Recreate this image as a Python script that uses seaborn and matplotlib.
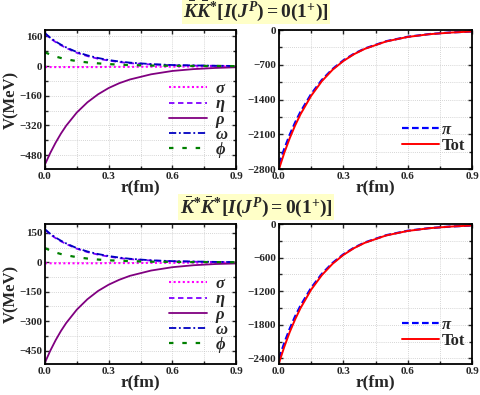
import matplotlib
matplotlib.use("Agg")
import matplotlib.pyplot as plt
import matplotlib.ticker as mticker
import seaborn as sns
import pandas as pd

# DATA

r = [0.0, 0.025, 0.05, 0.075, 0.1, 0.15, 0.2, 0.25, 0.3, 0.35, 0.4, 0.5, 0.6, 0.7, 0.8, 0.9]

# K-bar K-bar* panel
kk_sigma = [-5, -5, -5, -5, -5, -5, -5, -5, -4, -4, -4, -3, -3, -2, -2, -2]
kk_eta = [175, 150, 130, 113, 98, 72, 54, 40, 30, 22, 16, 9, 5, 3, 2, 1]
kk_rho = [-530, -468, -413, -364, -321, -250, -195, -152, -118, -92, -72, -44, -26, -16, -10, -6]
kk_omega = [178, 153, 133, 116, 101, 76, 58, 44, 33, 25, 19, 11, 6, 4, 2, 1]
kk_phi = [75, 62, 52, 44, 37, 27, 20, 15, 11, 8, 6, 3, 2, 1, 1, 0]
kk_pi = [-2700, -2390, -2110, -1865, -1650, -1290, -1005, -785, -612, -478, -373, -226, -137, -83, -50, -29]
kk_tot = [-2800, -2470, -2180, -1925, -1700, -1325, -1030, -800, -625, -487, -380, -230, -140, -85, -52, -30]

# K-bar* K-bar* panel
ss_sigma = [-5, -5, -5, -5, -5, -5, -5, -5, -4, -4, -4, -3, -3, -2, -2, -2]
ss_eta = [165, 142, 123, 107, 93, 69, 52, 39, 29, 21, 16, 9, 5, 3, 2, 1]
ss_rho = [-510, -450, -397, -350, -309, -241, -188, -146, -114, -89, -69, -42, -25, -15, -9, -6]
ss_omega = [168, 145, 126, 110, 96, 72, 55, 42, 32, 24, 18, 10, 6, 4, 2, 1]
ss_phi = [72, 60, 50, 42, 36, 26, 19, 14, 10, 8, 6, 3, 2, 1, 1, 0]
ss_pi = [-2400, -2120, -1870, -1650, -1460, -1140, -890, -695, -542, -423, -330, -200, -121, -74, -45, -27]
ss_tot = [-2480, -2190, -1930, -1705, -1505, -1172, -912, -710, -553, -431, -336, -204, -124, -75, -46, -27]

meson_names = ["σ", "η", "ρ", "ω", "ϕ"]

titles = [r"$\bar{K}\bar{K}^{*}[I(J^{P})=0(1^{+})]$",
          r"$\bar{K}^{*}\bar{K}^{*}[I(J^{P})=0(1^{+})]$"]

# STYLE

sns.set_theme(style="ticks")
plt.rcParams["font.family"] = ["Liberation Serif", "DejaVu Serif"]
plt.rcParams["font.weight"] = "bold"
plt.rcParams["mathtext.fontset"] = "custom"
plt.rcParams["mathtext.rm"] = "Liberation Serif:weight=bold"
plt.rcParams["mathtext.it"] = "Liberation Serif:style=italic:weight=bold"
plt.rcParams["mathtext.bf"] = "Liberation Serif:weight=bold"

meson_styles = [
    dict(color="#ff00ff", ls=(0, (1, 1.2)), lw=1.5),
    dict(color="#8000ff", ls=(0, (3, 2)), lw=1.3),
    dict(color="#800080", ls="-", lw=1.3),
    dict(color="#0000c0", ls=(0, (4, 1.5, 1, 1.5)), lw=1.3),
    dict(color="#008000", ls=(0, (2, 4)), lw=1.6),
]


def style_axes(ax, ymin, ymax, ystep):
    ax.set_xlim(0, 0.9)
    ax.set_ylim(ymin, ymax)
    ax.xaxis.set_major_locator(mticker.MultipleLocator(0.3))
    ax.xaxis.set_minor_locator(mticker.MultipleLocator(0.15))
    ax.yaxis.set_major_locator(mticker.MultipleLocator(ystep))
    ax.yaxis.set_minor_locator(mticker.MultipleLocator(ystep / 2))
    ax.xaxis.set_major_formatter(mticker.FormatStrFormatter("%.1f"))
    ax.tick_params(which="both", direction="in", top=True, right=True,
                   labelsize=8, width=1.0, length=3, pad=2)
    ax.tick_params(which="minor", length=2)
    for lab in ax.get_xticklabels() + ax.get_yticklabels():
        lab.set_fontweight("bold")
    ax.grid(which="both", color="#c8c8c8", ls=(0, (1, 1.5)), lw=0.6)
    for s in ax.spines.values():
        s.set_linewidth(1.3)
        s.set_color("black")
    ax.set_xlabel("r(fm)", fontsize=12.5, fontweight="bold", labelpad=-1)


def italic_labels(leg, which):
    for i in which:
        leg.get_texts()[i].set_fontstyle("italic")


def draw_left(ax, vals, ymin, ymax, ystep):
    df = pd.DataFrame({"r": r})
    for name, st, v in zip(meson_names, meson_styles, vals):
        df[name] = v
        sns.lineplot(data=df, x="r", y=name, ax=ax, label=name,
                     color=st["color"], linestyle=st["ls"], linewidth=st["lw"])
    style_axes(ax, ymin, ymax, ystep)
    ax.set_ylabel("V(MeV)", fontsize=12, fontweight="bold", labelpad=0)
    leg = ax.legend(loc="lower right", frameon=False, fontsize=12,
                    handlelength=2.3, labelspacing=-0.05, borderaxespad=0.1,
                    handletextpad=0.5, bbox_to_anchor=(1.0, 0.02))
    italic_labels(leg, range(5))


def draw_right(ax, pi, tot, ymin, ystep):
    df = pd.DataFrame({"r": r, "pi": pi, "tot": tot})
    sns.lineplot(data=df, x="r", y="pi", ax=ax, label="π",
                 color="#0000ff", linestyle=(0, (3, 1.5)), linewidth=1.6)
    sns.lineplot(data=df, x="r", y="tot", ax=ax, label="Tot",
                 color="#ff0000", linestyle="-", linewidth=1.4)
    style_axes(ax, ymin, 0, ystep)
    ax.set_ylabel("")
    leg = ax.legend(loc="lower right", frameon=False, fontsize=12,
                    handlelength=2.2, labelspacing=0.0, borderaxespad=0.0,
                    handletextpad=0.2, bbox_to_anchor=(1.0, 0.06))
    italic_labels(leg, [0])


fig = plt.figure(figsize=(4.8, 3.95), dpi=100)

W, H = 480, 395
# axes rectangles in pixels: left, top, right, bottom
boxes = [(45, 30, 236, 169), (279, 30, 472, 169),
         (45, 224, 236, 364), (279, 224, 472, 364)]
axs = [fig.add_axes([x0 / W, 1 - y1 / H, (x1 - x0) / W, (y1 - y0) / H])
       for x0, y0, x1, y1 in boxes]

draw_left(axs[0], [kk_sigma, kk_eta, kk_rho, kk_omega, kk_phi], -555, 195, 160)
draw_right(axs[1], kk_pi, kk_tot, -2800, 700)
draw_left(axs[2], [ss_sigma, ss_eta, ss_rho, ss_omega, ss_phi], -518, 195, 150)
draw_right(axs[3], ss_pi, ss_tot, -2500, 600)

# titles with yellow box
for t, y in zip(titles, [11, 207]):
    fig.text(256 / W, 1 - y / H, t, ha="center", va="center", fontsize=14,
             bbox=dict(facecolor="#ffffc8", edgecolor="none", pad=0.8))

fig.savefig("out.png", dpi=100)
